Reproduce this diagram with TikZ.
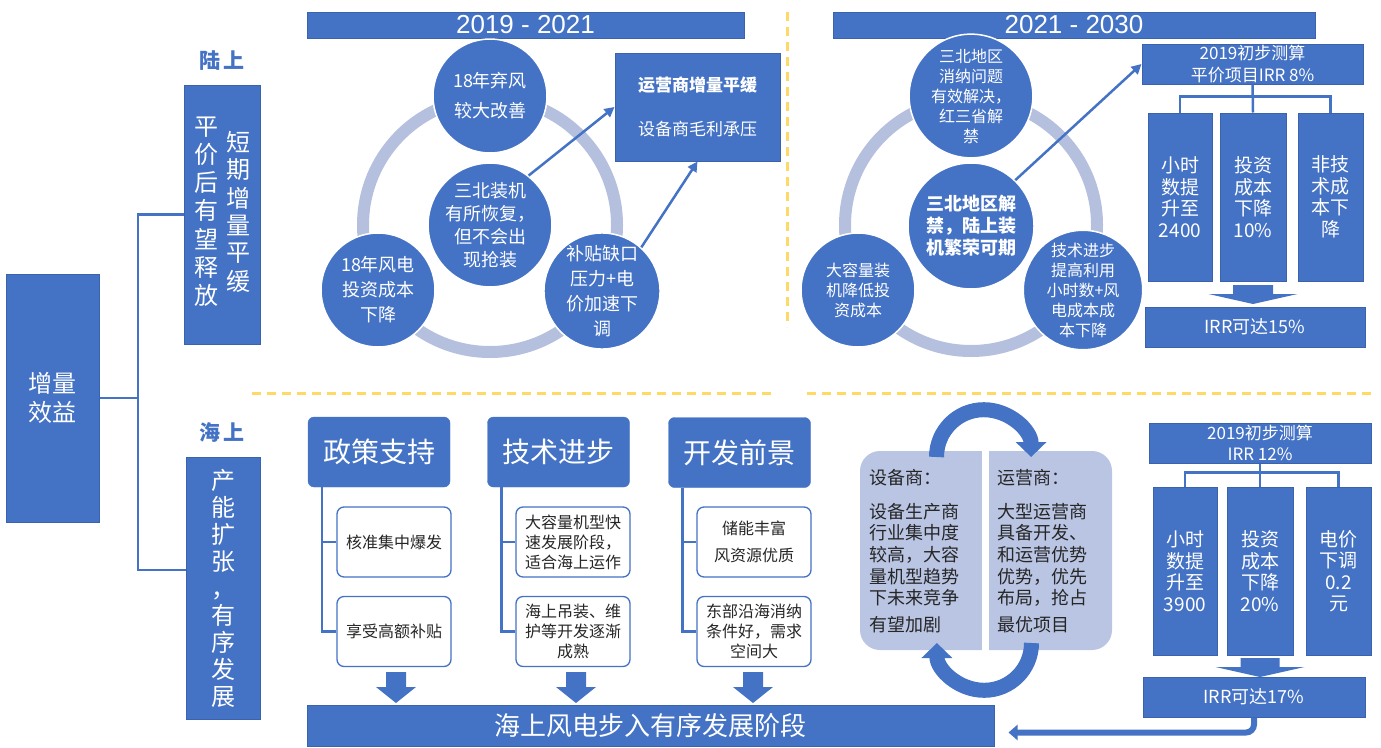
\documentclass[tikz,border=0pt]{standalone}
\usepackage{fontspec}
\setmainfont{Noto Sans CJK SC}
\newfontfamily\lat{Liberation Sans}
\usetikzlibrary{arrows.meta}
\definecolor{mb}{HTML}{4472C4}
\definecolor{mbd}{HTML}{3A62AD}
\definecolor{ringc}{HTML}{B4C0DE}
\definecolor{panelc}{HTML}{B9C5E3}
\definecolor{ydash}{HTML}{FFD966}
\newcommand{\myfs}[2]{\fontsize{#1}{#2}\selectfont}
\newcommand{\mydnarrow}[6]{\fill[mb] (#1-#5,#2) -- (#1+#5,#2) -- (#1+#5,#3) -- (#1+#6,#3) -- (#1,#4) -- (#1-#6,#3) -- (#1-#5,#3) -- cycle;}
\tikzset{
  bbox/.style={fill=mb, draw=mbd, line width=1pt, text=white, inner sep=0pt, align=center},
  circ/.style={circle, fill=mb, draw=white, line width=1.5pt, text=white, inner sep=0pt, align=center},
  ring/.style={draw=ringc, line width=12pt},
  hdr/.style={fill=mb, draw=mb, rounded corners=6pt, text=white, inner sep=0pt, align=center, minimum width=142pt, minimum height=70pt, font=\myfs{28}{28}},
  kid/.style={fill=white, draw=mb, line width=1.3pt, rounded corners=7pt, inner sep=0pt, align=center, text=black!85, minimum width=114pt, minimum height=70pt, font=\myfs{16}{20}},
  conn/.style={draw=mb, line width=2.5pt},
  thinarr/.style={draw=mb, line width=2.5pt, -{Triangle[length=10pt,width=10pt]}},
  ydl/.style={draw=ydash, line width=3pt, dash pattern=on 9pt off 6pt},
  lbl/.style={text=mb, font=\myfs{21}{24}\bfseries},
  tall/.style={bbox, minimum height=168pt, font=\myfs{19}{21.5}},
  cycarr/.style={draw=mb, line width=15pt, -{Triangle[length=15pt,width=30pt]}},
  ptext/.style={anchor=north west, align=left, inner sep=0pt, font=\myfs{18}{21.7}, text=black!85},
}
\begin{document}
\begin{tikzpicture}[x=1pt,y=-1pt]
\useasboundingbox (0,0) rectangle (1381,747);
% dashed separators
\draw[ydl] (787,12) -- (787,327);
\draw[ydl] (252,393) -- (775,393);
\draw[ydl] (807,393) -- (1376,393);

% left tree
\node[bbox, minimum width=93pt, minimum height=248pt, font=\myfs{24}{29}] (zl) at (52.5,398) {增量\\效益};
\node[bbox, minimum width=76pt, minimum height=259pt, font=\myfs{24}{27}] (land) at (222,214.5)
  {\begin{tabular}[c]{@{}c@{}}平\\价\\后\\有\\望\\释\\放\end{tabular}\hspace{8pt}\begin{tabular}[c]{@{}c@{}}短\\期\\增\\量\\平\\缓\end{tabular}};
\node[bbox, minimum width=74pt, minimum height=262pt, font=\myfs{24}{27}] (sea) at (223,588) {产\\能\\扩\\张\\，\\有\\序\\发\\展};
\node[lbl] (landl) at (222,61) {陆\,上};
\node[lbl] (seal) at (222,432) {海\,上};
\coordinate (j) at (138,398);
\draw[conn] (zl.east) -- (j);
\draw[conn] (j) |- (land.west);
\draw[conn] (j) |- ([yshift=18pt]sea.west);

% section 2019-2021
\node[bbox, minimum width=437pt, minimum height=26pt, font=\lat\myfs{26}{26}] (ban1) at (525.5,25) {2019 - 2021};
\draw[ring] (490,225) circle[radius=127];
\node[circ, minimum size=114pt, font=\myfs{18}{30}] (c1t) at (490,96) {18年弃风\\较大改善};
\node[circ, minimum size=120pt, font=\myfs{18}{23}] (c1c) at (490,225) {三北装机\\有所恢复，\\但不会出\\现抢装};
\node[circ, minimum size=114pt, font=\myfs{18}{25}] (c1l) at (378,290) {18年风电\\投资成本\\下降};
\node[circ, minimum size=114pt, font=\myfs{18}{25}] (c1r) at (602,291) {补贴缺口\\压力+电\\价加速下\\调};
\node[bbox, minimum width=165pt, minimum height=108pt, font=\myfs{17}{20}] (r1) at (697.5,107) {{\bfseries 运营商增量平缓}\\[24pt]设备商毛利承压};
\draw[thinarr] (c1c.52) -- (r1.west);
\draw[thinarr] (c1r.48) -- (r1.south);

% section 2021-2030
\node[bbox, minimum width=482pt, minimum height=26pt, font=\lat\myfs{26}{26}] (ban2) at (1074,25) {2021 - 2030};
\draw[ring] (971,225) circle[radius=126];
\node[circ, minimum size=114pt, font=\myfs{16}{20}] (c2t) at (971,96) {三北地区\\消纳问题\\有效解决，\\红三省解\\禁};
\node[circ, minimum size=126pt, font=\myfs{18}{22}\bfseries] (c2c) at (971,226) {三北地区解\\禁，陆上装\\机繁荣可期};
\node[circ, minimum size=114pt, font=\myfs{16}{20}] (c2l) at (858,290) {大容量装\\机降低投\\资成本};
\node[circ, minimum size=114pt, font=\myfs{16}{20}] (c2r) at (1083,290) {技术进步\\提高利用\\小时数+风\\电成本成\\本下降};
\node[bbox, minimum width=221pt, minimum height=40pt, font=\myfs{17}{22}] (b2) at (1252.5,64) {2019初步测算\\平价项目IRR 8\%};
\draw[thinarr] (c2c.46) -- (b2.west);
\node[tall, minimum width=64pt] (t21) at (1180,197) {小时\\数提\\升至\\2400};
\node[tall, minimum width=66pt] (t22) at (1253,197) {投资\\成本\\下降\\10\%};
\node[tall, minimum width=65pt] (t23) at (1330.5,197) {非技\\术成\\本下\\降};
\draw[conn] (b2.south) -- (t22.north);
\draw[conn] (t21.north) -- ++(0,-16) -| (t23.north);
\mydnarrow{1253}{285}{294}{304}{20}{44.5}
\node[bbox, minimum width=220pt, minimum height=40pt, font=\myfs{18}{22}] (i15) at (1255,327) {IRR可达15\%};

% offshore columns
\node[hdr] (h1) at (379,452) {政策支持};
\node[hdr] (h2) at (558.5,452) {技术进步};
\node[hdr] (h3) at (739.5,452.5) {开发前景};
\node[kid] (k11) at (394,542) {核准集中爆发};
\node[kid] (k12) at (394,631.5) {享受高额补贴};
\node[kid] (k21) at (573,542) {大容量机型快\\速发展阶段，\\适合海上运作};
\node[kid] (k22) at (573,631.5) {海上吊装、维\\护等开发逐渐\\成熟};
\node[kid, font=\myfs{16}{27}] (k31) at (754,542) {储能丰富\\风资源优质};
\node[kid] (k32) at (754,631.5) {东部沿海消纳\\条件好，需求\\空间大};
\draw[conn] ([xshift=14pt]h1.south west) |- (k11.west);
\draw[conn] ([xshift=14pt]h1.south west) |- (k12.west);
\draw[conn] ([xshift=14pt]h2.south west) |- (k21.west);
\draw[conn] ([xshift=14pt]h2.south west) |- (k22.west);
\draw[conn] ([xshift=14pt]h3.south west) |- (k31.west);
\draw[conn] ([xshift=14pt]h3.south west) |- (k32.west);
\mydnarrow{396}{672}{687}{703}{10}{20}
\mydnarrow{576}{672}{687}{703}{10}{20}
\mydnarrow{753}{672}{687}{703}{10}{20}
\node[bbox, minimum width=687pt, minimum height=41pt, font=\myfs{26}{26}] (bb) at (650.5,725.5) {海上风电步入有序发展阶段};

% cycle panels
\fill[panelc, rounded corners=20pt] (860,451) rectangle (1112,650);
\fill[white] (982,448) rectangle (989,653);
\node[ptext] (pl) at (869,469) {设备商：\\[12pt]设备生产商\\行业集中度\\较高，大容\\量机型趋势\\下未来竞争\\[5pt]有望加剧};
\node[ptext] (pr) at (997,469) {运营商：\\[12pt]大型运营商\\具备开发、\\和运营优势\\优势，优先\\布局，抢占\\[5pt]最优项目};
\draw[cycarr] (936.5,457) arc[start angle=180, end angle=360, radius=47.3];
\draw[cycarr] (1031.5,643) arc[start angle=0, end angle=180, radius=47.3];

% right tree bottom
\node[bbox, minimum width=222pt, minimum height=40pt, font=\myfs{17}{21}] (b3) at (1260,443) {2019初步测算\\IRR 12\%};
\node[tall, minimum width=64pt] (u1) at (1185,571) {小时\\数提\\升至\\3900};
\node[tall, minimum width=66pt] (u2) at (1260,571) {投资\\成本\\下降\\20\%};
\node[tall, minimum width=65pt] (u3) at (1338.5,571) {电价\\下调\\0.2\\元};
\draw[conn] (b3.south) -- (u2.north);
\draw[conn] (u1.north) -- ++(0,-14) -| (u3.north);
\mydnarrow{1260}{658}{667}{677}{19.5}{44.5}
\node[bbox, minimum width=222pt, minimum height=40pt, font=\myfs{18}{22}] (i17) at (1254,697) {IRR可达17\%};
\draw[draw=mb, line width=6pt, rounded corners=8pt, -{Triangle[length=9pt,width=15pt]}, shorten >=14pt] (i17.south) |- ([yshift=-7pt]bb.east);
\end{tikzpicture}
\end{document}
